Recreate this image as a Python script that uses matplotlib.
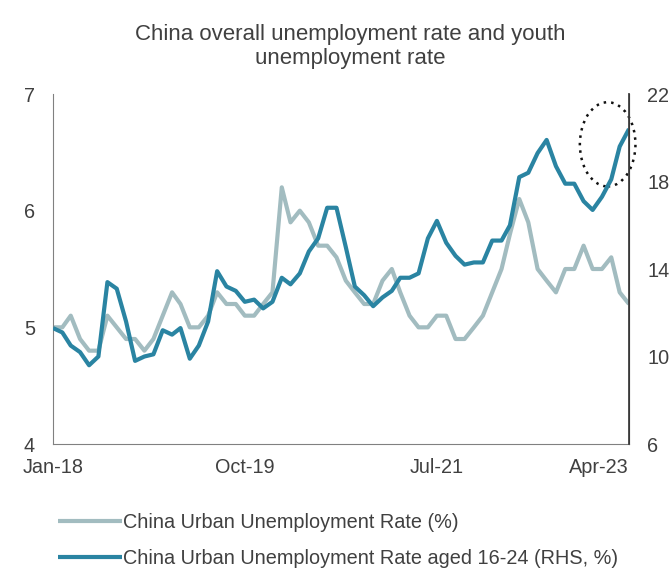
import matplotlib
matplotlib.use("Agg")
import matplotlib.pyplot as plt
import matplotlib.dates as mdates
from matplotlib.patches import Ellipse
import pandas as pd

plt.rcParams['font.family'] = ['Liberation Sans', 'DejaVu Sans']

# monthly data, Jan-2018 .. Apr-2023
months = pd.date_range('2018-01-01', periods=64, freq='MS')

urban_rate = [5.0, 5.0, 5.1, 4.9, 4.8, 4.8, 5.1, 5.0, 4.9, 4.9, 4.8, 4.9,
              5.1, 5.3, 5.2, 5.0, 5.0, 5.1, 5.3, 5.2, 5.2, 5.1, 5.1, 5.2,
              5.3, 6.2, 5.9, 6.0, 5.9, 5.7, 5.7, 5.6, 5.4, 5.3, 5.2, 5.2,
              5.4, 5.5, 5.3, 5.1, 5.0, 5.0, 5.1, 5.1, 4.9, 4.9, 5.0, 5.1,
              5.3, 5.5, 5.8, 6.1, 5.9, 5.5, 5.4, 5.3, 5.5, 5.5, 5.7, 5.5,
              5.5, 5.6, 5.3, 5.2]

youth_rate = [11.3, 11.1, 10.5, 10.2, 9.6, 10.0, 13.4, 13.1, 11.6, 9.8, 10.0, 10.1,
              11.2, 11.0, 11.3, 9.9, 10.5, 11.6, 13.9, 13.2, 13.0, 12.5, 12.6, 12.2,
              12.5, 13.6, 13.3, 13.8, 14.8, 15.4, 16.8, 16.8, 15.0, 13.2, 12.8, 12.3,
              12.7, 13.0, 13.6, 13.6, 13.8, 15.4, 16.2, 15.2, 14.6, 14.2, 14.3, 14.3,
              15.3, 15.3, 16.0, 18.2, 18.4, 19.3, 19.9, 18.7, 17.9, 17.9, 17.1, 16.7,
              17.3, 18.1, 19.6, 20.4]

tick_dates = ['2018-01-01', '2019-10-01', '2021-07-01', '2023-04-01']
tick_labels = ['Jan-18', 'Oct-19', 'Jul-21', 'Apr-23']

gray_col = '#a2bcc0'
teal_col = '#2a84a2'
txt_col = '#404040'

fig = plt.figure(figsize=(6.71, 5.68), dpi=100)
ax = fig.add_axes([0.079, 0.2183, 0.8584, 0.6162])
ax2 = ax.twinx()

l1, = ax.plot(months, urban_rate, color=gray_col, lw=3, solid_capstyle='butt',
              label='China Urban Unemployment Rate (%)')
l2, = ax2.plot(months, youth_rate, color=teal_col, lw=3, solid_capstyle='butt',
               label='China Urban Unemployment Rate aged 16-24 (RHS, %)')

ax.set_ylim(4, 7)
ax.set_yticks([4, 5, 6, 7])
ax2.set_ylim(6, 22)
ax2.set_yticks([6, 10, 14, 18, 22])
ax.set_xlim(months[0], months[-1])
ax.set_xticks(pd.to_datetime(tick_dates))
ax.set_xticklabels(tick_labels)
ax.get_xticklabels()[-1].set_ha('right')

for a in (ax, ax2):
    a.tick_params(length=0, labelsize=14.3, colors=txt_col)
    a.spines['top'].set_visible(False)
ax.tick_params(axis='y', pad=13)
ax2.tick_params(axis='y', pad=13)
ax.tick_params(axis='x', pad=10)
ax.spines['left'].set_color('#808080')
ax.spines['bottom'].set_color('#808080')
ax2.spines['left'].set_visible(False)
ax2.spines['bottom'].set_visible(False)
ax2.spines['right'].set_color('#404040')
ax2.spines['right'].set_linewidth(1.3)

# dotted circle around the latest youth readings
cx = mdates.date2num(pd.Timestamp('2023-01-20'))
ax2.add_patch(Ellipse((cx, 19.7), width=185, height=3.85, fill=False,
                      ls=(0, (1, 2)), lw=1.8, ec='#111111', clip_on=False))

fig.suptitle('China overall unemployment rate and youth\nunemployment rate',
             x=0.522, y=0.958, fontsize=16, color=txt_col, linespacing=1.22)

fig.legend(handles=[l1, l2], loc='upper left', bbox_to_anchor=(0.075, 0.111),
           frameon=False, fontsize=14.3, labelcolor=txt_col, handlelength=3.2,
           handletextpad=0.08, labelspacing=0.86, borderaxespad=0)

fig.savefig('out.png', dpi=100)
